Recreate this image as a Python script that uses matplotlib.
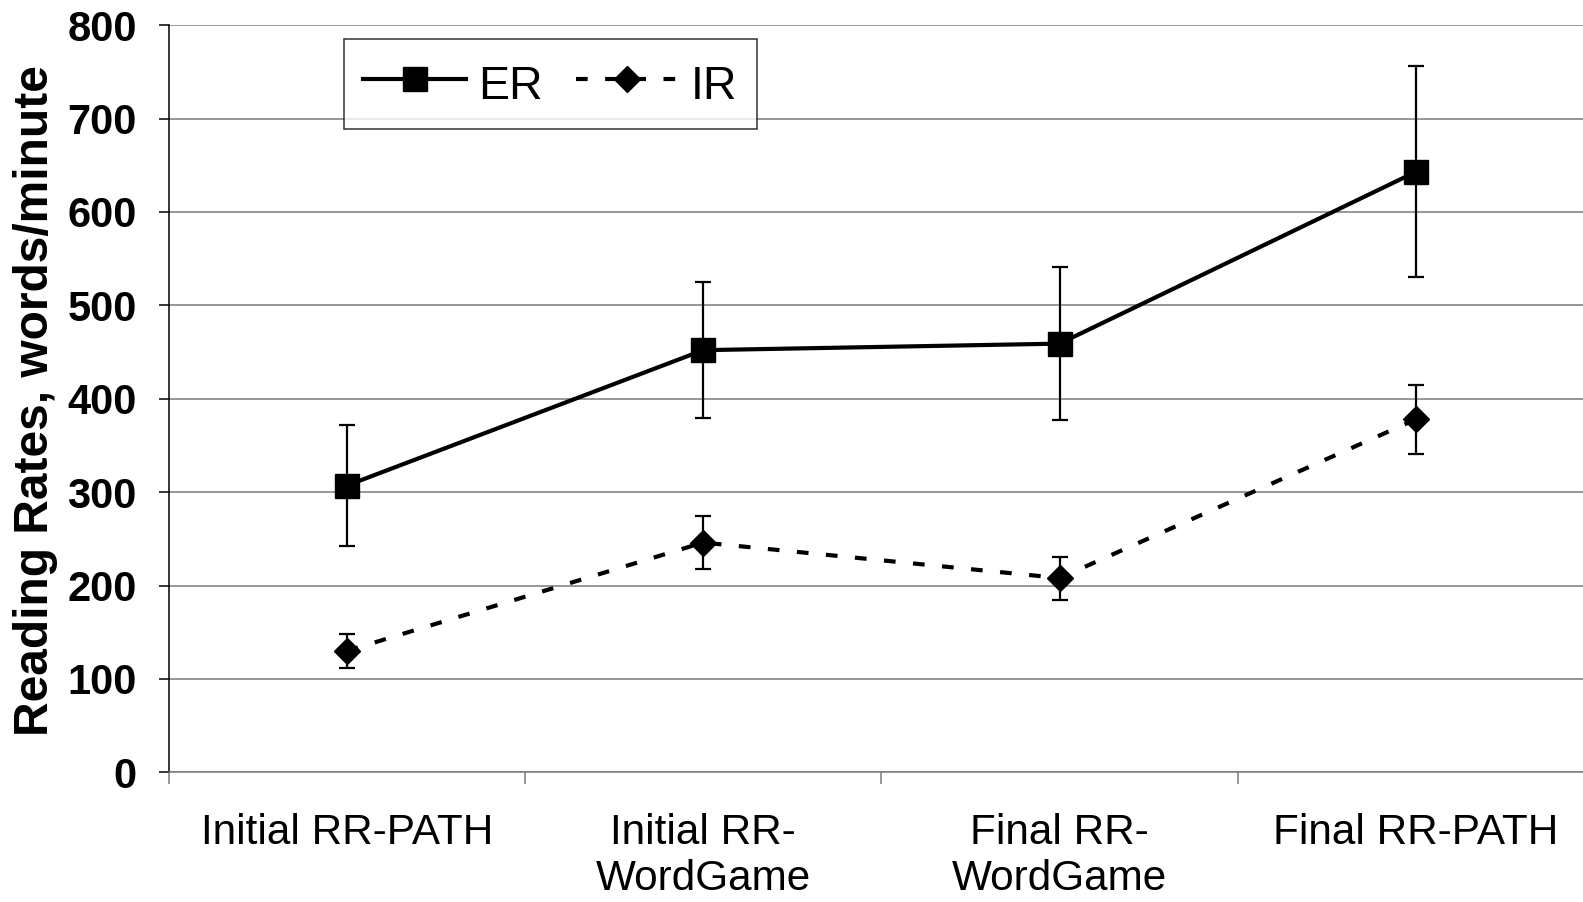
import matplotlib
matplotlib.use("Agg")
import matplotlib.pyplot as plt
import numpy as np

plt.rcParams['font.family'] = ['Liberation Sans', 'DejaVu Sans']

# data
categories = ["Initial RR-PATH", "Initial RR-\nWordGame", "Final RR-\nWordGame", "Final RR-PATH"]
er_mean = [307, 452, 459, 643]
er_err = [65, 73, 82, 113]
ir_mean = [130, 246, 208, 378]
ir_err = [18, 28, 23, 37]
y_ticks = [0, 100, 200, 300, 400, 500, 600, 700, 800]

x = np.arange(len(categories)) + 0.5

fig = plt.figure(figsize=(15.83, 9.02), dpi=100)
# axes deliberately runs past the right edge, like the original
ax = fig.add_axes([0.1065, 0.1438, 0.9006, 0.8283])

ax.set_xlim(0, len(categories))
ax.set_ylim(0, 800)
ax.set_yticks(y_ticks)
ax.yaxis.grid(True, color="#7a7a7a", linewidth=1.1)
ax.set_axisbelow(True)

# ER: solid line with squares
ax.errorbar(x, er_mean, yerr=er_err, fmt="none", ecolor="k", elinewidth=1.6,
            capsize=6, capthick=1.6, zorder=3)
ax.plot(x, er_mean, color="k", linewidth=3, marker="s", markersize=17,
        label="ER", zorder=4)

# IR: dashed line with diamonds
ax.errorbar(x, ir_mean, yerr=ir_err, fmt="none", ecolor="k", elinewidth=1.6,
            capsize=6, capthick=1.6, zorder=3)
ax.plot(x, ir_mean, color="k", linewidth=3, linestyle=(0, (2.8, 4.2)),
        marker="D", markersize=13, label="IR", zorder=4)

# axes look
for side in ["top", "right"]:
    ax.spines[side].set_visible(False)
ax.spines["left"].set_color("k")
ax.spines["left"].set_linewidth(1.1)
ax.spines["bottom"].set_color("#7a7a7a")
ax.spines["bottom"].set_linewidth(1.1)

ax.set_xticks(np.arange(len(categories) + 1))
ax.set_xticklabels([])
ax.tick_params(axis="x", which="major", length=8.6, color="#7a7a7a", width=1.1)
ax.set_xticks(x, minor=True)
ax.set_xticklabels(categories, minor=True, fontsize=30.4)
ax.tick_params(axis="x", which="minor", length=0, pad=29.5)

ax.tick_params(axis="y", length=7, width=1.1, color="k", pad=16)
for lbl in ax.get_yticklabels():
    lbl.set_fontsize(30)
    lbl.set_fontweight("bold")

ax.set_ylabel("Reading Rates, words/minute", fontsize=34.5, fontweight="bold")
ax.yaxis.set_label_coords(-0.0775, 0.4977)

leg = ax.legend(loc="upper left", bbox_to_anchor=(344 / 1583, 1 - 39 / 902),
                bbox_transform=fig.transFigure, ncol=2, fontsize=33.5,
                frameon=True, fancybox=False, borderpad=0.41, handleheight=1.33,
                handlelength=2.22, handletextpad=0.26, columnspacing=0.7,
                borderaxespad=0)
leg.get_frame().set_edgecolor("k")
leg.get_frame().set_linewidth(1.1)

fig.savefig("out.png", dpi=100)
